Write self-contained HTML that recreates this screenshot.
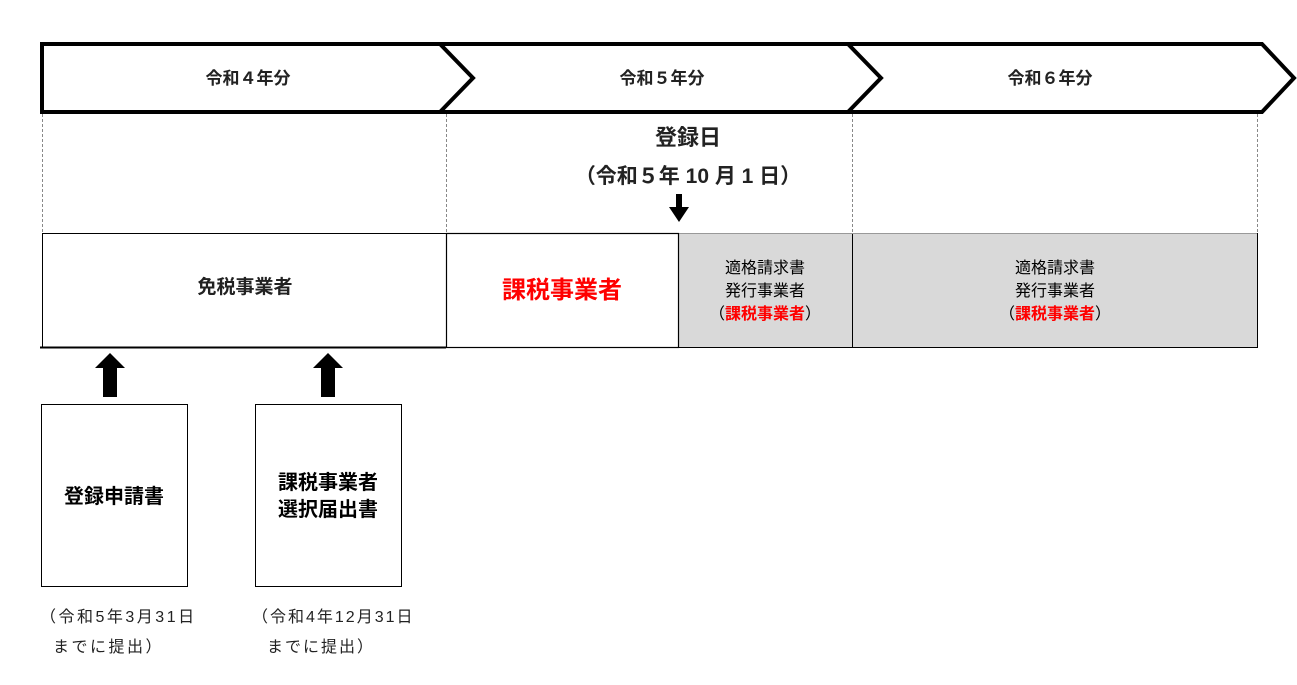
<!DOCTYPE html>
<html><head><meta charset="utf-8"><style>
html,body{margin:0;padding:0;background:#fff;}
svg text{font-family:"Liberation Sans","Noto Sans CJK JP",sans-serif;}
</style></head><body>
<svg width="1297" height="680" viewBox="0 0 1297 680" xmlns="http://www.w3.org/2000/svg">
<g fill="none" stroke="#000" stroke-width="4" stroke-linejoin="miter">
<path d="M42,44 L1262,44 L1294,78 L1262,112 L42,112 Z"/>
<path d="M440,44 L473,78 L440,112"/>
<path d="M848,44 L881,78 L848,112"/>
</g>
<g font-size="17" font-weight="bold" fill="#222" text-anchor="middle">
<text x="248" y="84">令和４年分</text>
<text x="662" y="84">令和５年分</text>
<text x="1050" y="84">令和６年分</text>
</g>
<g stroke="#888" stroke-width="1" stroke-dasharray="3,2">
<line x1="42.5" y1="114" x2="42.5" y2="233"/>
<line x1="446.5" y1="114" x2="446.5" y2="233"/>
<line x1="852.5" y1="114" x2="852.5" y2="233"/>
<line x1="1257.5" y1="114" x2="1257.5" y2="233"/>
</g>
<text x="688" y="145" font-size="22" font-weight="bold" fill="#222" text-anchor="middle">登録日</text>
<text x="688" y="183" font-size="21" font-weight="bold" fill="#222" text-anchor="middle">（令和５年 10 月 1 日）</text>
<path d="M676,194 L682,194 L682,207 L689,207 L679,222 L669,207 L676,207 Z" fill="#000"/>
<rect x="678.5" y="233.5" width="174" height="114" fill="#d9d9d9" stroke="#000" stroke-width="1"/>
<rect x="852.5" y="233.5" width="405" height="114" fill="#d9d9d9" stroke="#000" stroke-width="1"/>
<line x1="42" y1="233.5" x2="1257" y2="233.5" stroke="#999" stroke-width="1"/>
<rect x="42.5" y="233.5" width="404" height="114" fill="#fff" stroke="#000" stroke-width="1"/>
<line x1="40" y1="347.5" x2="446" y2="347.5" stroke="#000" stroke-width="2"/>
<rect x="446.5" y="233.5" width="232" height="114" fill="#fff" stroke="#000" stroke-width="1.2"/>
<text x="245" y="293" font-size="19" font-weight="bold" fill="#222" text-anchor="middle">免税事業者</text>
<text x="562" y="298" font-size="24" font-weight="bold" fill="#f00" text-anchor="middle">課税事業者</text>
<g font-size="16" fill="#000" text-anchor="middle">
<text x="765" y="273">適格請求書</text>
<text x="765" y="296">発行事業者</text>
<text x="765" y="319">（<tspan fill="#f00" font-weight="bold">課税事業者</tspan>）</text>
<text x="1055" y="273">適格請求書</text>
<text x="1055" y="296">発行事業者</text>
<text x="1055" y="319">（<tspan fill="#f00" font-weight="bold">課税事業者</tspan>）</text>
</g>
<path d="M103,397 L103,368 L95,368 L110,353 L125,368 L117,368 L117,397 Z" fill="#000"/>
<path d="M321,397 L321,368 L313,368 L328,353 L343,368 L335,368 L335,397 Z" fill="#000"/>
<rect x="41.5" y="404.5" width="146" height="182" fill="#fff" stroke="#000" stroke-width="1"/>
<rect x="255.5" y="404.5" width="146" height="182" fill="#fff" stroke="#000" stroke-width="1"/>
<g font-size="20" font-weight="bold" fill="#000" text-anchor="middle">
<text x="114" y="503">登録申請書</text>
<text x="328" y="489">課税事業者</text>
<text x="328" y="516">選択届出書</text>
</g>
<g font-size="16" fill="#222">
<text x="40" y="622" letter-spacing="2.5">（令和5年3月31日</text>
<text x="53" y="652" letter-spacing="2.5">までに提出）</text>
<text x="252" y="622" letter-spacing="2">（令和4年12月31日</text>
<text x="267" y="652" letter-spacing="2">までに提出）</text>
</g>
</svg>
</body></html>
